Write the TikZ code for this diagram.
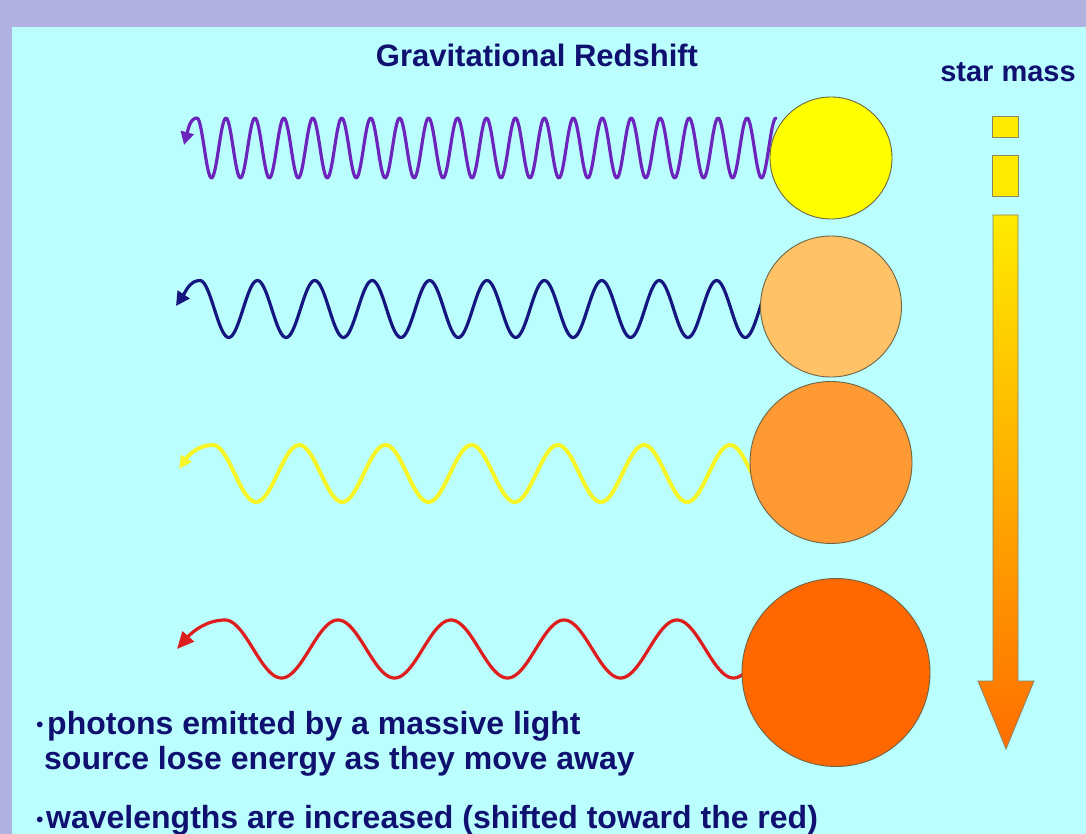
\documentclass[tikz,border=0pt]{standalone}
\usepackage{fontspec}
\setmainfont{Liberation Sans}
\usetikzlibrary{arrows.meta}
\definecolor{lav}{RGB}{178,178,226}
\definecolor{cyanbg}{RGB}{186,255,253}
\definecolor{navytext}{RGB}{16,16,112}
\definecolor{wpurple}{RGB}{108,36,188}
\definecolor{wnavy}{RGB}{22,22,128}
\definecolor{wyellow}{RGB}{245,245,40}
\definecolor{wred}{RGB}{222,30,30}
\definecolor{sA}{RGB}{255,255,0}
\definecolor{sB}{RGB}{255,194,102}
\definecolor{sC}{RGB}{255,153,51}
\definecolor{sD}{RGB}{255,104,0}
\definecolor{sborder}{RGB}{110,100,70}
\definecolor{agray}{RGB}{140,130,100}
\definecolor{atop}{RGB}{255,235,0}
\definecolor{abot}{RGB}{255,110,0}
\tikzset{
  starnode/.style={circle, draw=sborder, line width=0.9pt, inner sep=0pt},
  wave/.style={line width=3.2pt, line cap=round, line join=round},
  txt/.style={font=\fontsize{32}{36}\selectfont\bfseries, text=navytext, inner sep=0pt},
  bul/.style={font=\fontsize{20}{22}\selectfont\bfseries, text=navytext, inner sep=0pt},
  massbox/.style={draw=agray, line width=0.8pt}
}
\begin{document}
\begin{tikzpicture}[x=1pt,y=-1pt]
\useasboundingbox (0,0) rectangle (1086,834);
\fill[lav] (0,0) rectangle (1086,834);
\fill[cyanbg] (12,27) rectangle (1086,834);

% title
\node[txt, font=\fontsize{31}{36}\selectfont\bfseries, anchor=base] (title) at (537,67) {Gravitational Redshift};
\node[txt, font=\fontsize{29}{34}\selectfont\bfseries, anchor=base] (mass) at (1008,82) {star mass};

% waves
\coordinate (t1) at (184,145);
\coordinate (p1) at (197,118);
\draw[wave, wpurple, {Triangle[length=13pt,width=13pt]}-] (t1) .. controls (188,130) and (190,118) .. (p1)
  -- plot[domain=197:776, samples=500] (\x, {148-30*cos((\x-197)/28.95*360)});

\coordinate (t2) at (176,306);
\coordinate (p2) at (200,280.5);
\draw[wave, wnavy, {Triangle[length=14pt,width=14pt]}-] (t2) .. controls (186,291) and (190,280.5) .. (p2)
  -- plot[domain=200:766, samples=400] (\x, {309-28.5*cos((\x-200)/57.4*360)});

\coordinate (t3) at (179,469);
\coordinate (p3) at (213,445);
\draw[wave, wyellow, line width=4pt, {Triangle[length=13pt,width=12pt]}-] (t3) .. controls (190,453) and (200,445) .. (p3)
  -- plot[domain=213:756, samples=300] (\x, {473.5-28.5*cos((\x-213)/86.2*360)});

\coordinate (t4) at (177,649);
\coordinate (p4) at (225,620);
\draw[wave, wred, {Triangle[length=17pt,width=15pt]}-] (t4) .. controls (194,630) and (208,620) .. (p4)
  -- plot[domain=225:748, samples=300] (\x, {649-29*cos((\x-225)/113*360)});

% stars
\node[starnode, minimum size=122pt, fill=sA] (s1) at (831,158) {};
\node[starnode, minimum size=141pt, fill=sB] (s2) at (831,306.5) {};
\node[starnode, minimum size=162pt, fill=sC] (s3) at (831,462.5) {};
\node[starnode, minimum size=188pt, fill=sD] (s4) at (836,672.5) {};

% star mass arrow
\fill[atop, massbox] (992,116) rectangle (1018,137);
\fill[atop, massbox] (992,155) rectangle (1018,196);
\shade[top color=atop, bottom color=abot, massbox]
  (993,215) -- (1018,215) -- (1018,681) -- (1034,681) -- (1006,749) -- (978,681) -- (993,681) -- cycle;

% bullet texts
\node[bul, anchor=base] (b1) at (40,731) {•};
\node[txt, anchor=base west] (l1) at (47,734) {photons emitted by a massive light};
\node[txt, anchor=base west] (l2) at (44,769) {source lose energy as they move away};
\node[bul, anchor=base] (b3) at (40,826) {•};
\node[txt, anchor=base west] (l3) at (46,828) {wavelengths are increased (shifted toward the red)};
\end{tikzpicture}
\end{document}
